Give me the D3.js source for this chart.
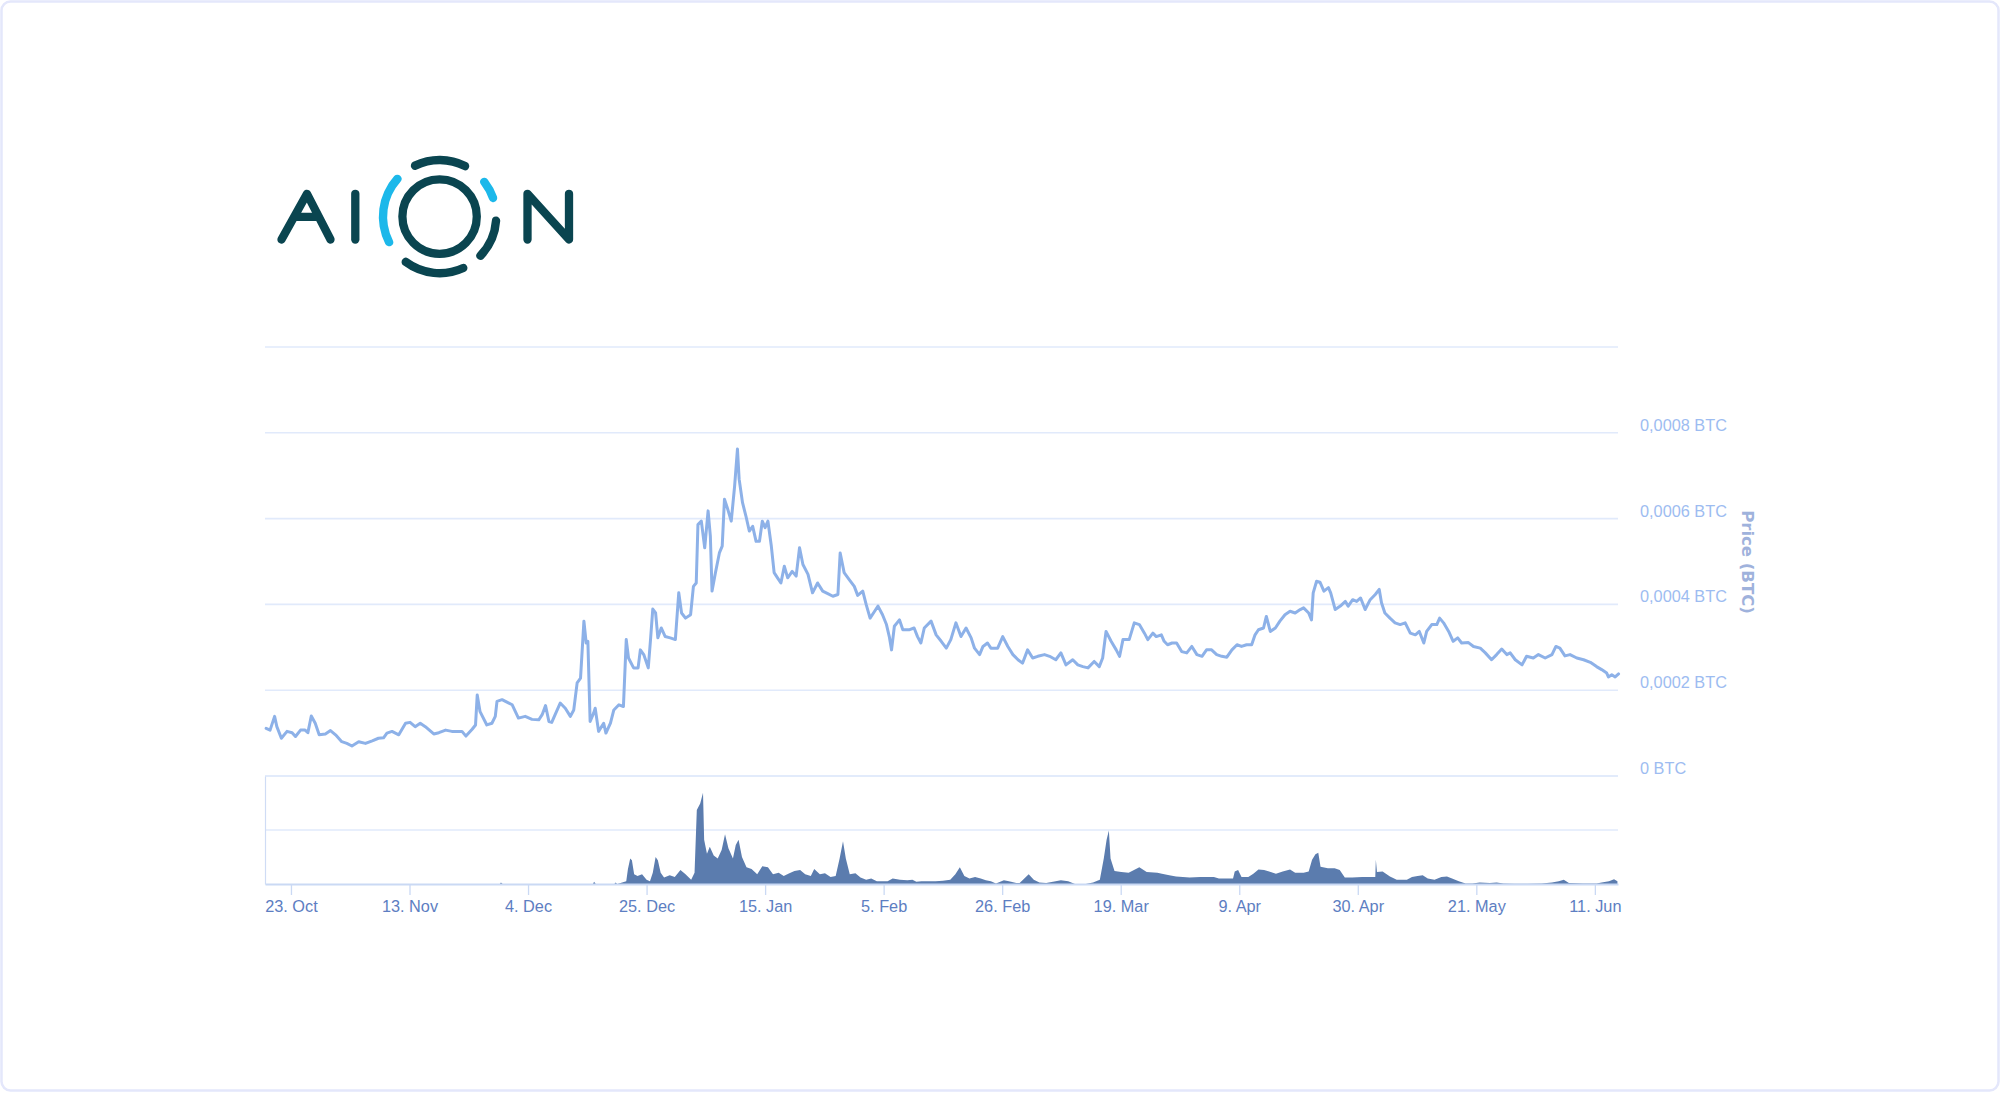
<!DOCTYPE html>
<html><head><meta charset="utf-8">
<script src="https://cdn.jsdelivr.net/npm/d3@7"></script>
<style>
html,body{margin:0;padding:0;background:#fff;}
svg{display:block;}
</style></head>
<body>
<svg id="c" width="2000" height="1093"></svg>
<script>
// ---------- DATA ----------
// days since 23 Oct 2017 (UTC) for each price reading
const priceDays = [-4.4,-3.7,-2.9,-2.5,-1.7,-0.7,0.2,0.8,1.7,2.5,3.0,3.6,4.3,5.0,6.1,7.0,7.9,9.0,9.9,10.8,12.0,13.2,14.4,15.5,16.4,17.0,17.9,19.1,20.3,21.1,22.0,22.9,23.8,25.3,26.2,27.4,28.5,29.7,30.3,31.0,32.1,32.7,33.0,33.5,34.7,35.6,36.2,36.5,37.4,38.6,39.2,40.3,41.5,42.7,43.9,44.5,45.1,45.7,46.2,46.8,47.7,48.6,49.5,50.1,50.7,51.3,51.9,52.3,52.6,53.0,53.6,53.9,54.5,55.4,55.8,56.6,57.2,58.1,58.9,59.4,59.8,60.7,61.5,61.9,62.5,63.3,63.7,64.1,64.6,65.0,65.6,66.3,67.2,68.1,68.7,69.2,69.9,70.8,71.3,71.8,72.1,72.7,73.3,73.9,74.3,74.6,75.2,75.9,76.4,76.8,77.4,78.0,78.6,79.1,79.4,80.0,80.6,81.2,81.8,82.4,83.0,83.5,84.0,84.5,85.1,85.6,86.2,86.8,87.4,88.0,88.8,89.5,90.1,90.7,91.6,92.4,93.3,94.2,95.1,96.0,96.9,97.3,98.0,98.9,99.8,100.4,101.3,101.9,102.6,103.4,104.0,104.8,105.5,106.0,106.4,106.9,107.8,108.4,109.6,110.4,111.0,111.6,112.2,113.4,114.3,115.2,116.1,116.9,117.8,118.7,119.6,120.5,121.1,122.0,122.6,123.4,124.0,125.2,126.1,127.0,127.9,128.8,129.6,130.5,131.4,132.3,133.5,134.4,135.5,136.4,137.3,138.5,139.4,140.3,141.2,142.3,143.2,143.8,144.4,145.3,146.2,146.8,147.4,148.5,149.4,150.3,151.2,151.8,152.7,153.3,154.2,154.7,155.3,156.1,156.9,157.8,158.7,159.6,160.5,161.4,162.2,163.1,164.0,164.9,165.8,166.7,167.6,168.4,169.3,170.2,170.8,171.4,172.3,172.8,173.5,174.4,175.2,176.1,177.0,177.9,178.8,179.4,180.3,180.8,181.1,181.7,182.3,183.0,183.8,184.2,185.0,185.9,186.8,187.3,188.1,188.8,189.5,190.3,191.2,192.1,192.8,193.2,193.8,194.7,195.6,196.5,197.4,198.3,199.2,199.9,200.7,201.2,202.1,203.0,203.5,204.2,205.1,205.9,206.7,207.4,208.6,209.5,210.7,211.6,212.7,213.6,214.5,215.4,216.0,216.9,218.1,218.9,220.1,221.0,222.2,223.4,224.1,224.8,225.7,226.6,227.8,229.0,230.2,231.3,232.2,233.1,233.4,234.0,234.6,235.2];
// price in satoshi (1 BTC = 1e8 sat)
const priceSat = [11100,10700,13900,11500,8800,10400,10100,9200,10700,10700,10100,14000,12300,9600,9800,10600,9600,8000,7600,7000,8000,7600,8200,8800,8900,10000,10400,9600,12300,12500,11500,12300,11500,9800,10100,10700,10400,10400,10400,9300,10900,11900,18900,15000,11900,12300,13900,17400,17800,17000,16600,13500,13900,13200,13100,14300,16400,12700,12500,14300,17000,15800,13900,15400,21700,22800,36100,31000,31400,12700,14600,15800,10400,12300,10000,12300,15400,16600,16200,31800,27500,25200,25200,29400,28300,25200,31800,38900,38000,32200,34500,32500,32200,31800,42700,38000,36800,37600,44200,45000,58600,59400,53200,61800,55900,43100,47400,52000,53600,64500,62100,59400,67600,76200,69200,63700,60600,57100,58200,54700,54700,59400,57900,59400,53600,47400,46200,45000,48900,46200,47700,46600,53200,49300,47000,42700,45000,43100,42500,41900,42300,52000,47400,45800,44200,42100,43100,40000,36800,38400,39600,37600,35300,32500,29400,34900,36400,34100,34100,34500,32500,31000,34500,36100,32900,31400,29800,31800,35700,32500,34500,32200,29800,28300,30200,31000,29800,29800,32500,30200,28300,27100,26300,29400,27500,27900,28300,27900,27100,28700,25900,27100,25900,25500,25200,26700,25500,27500,33700,31400,29400,27900,31800,31800,35700,35300,33300,31800,33300,32500,32900,31400,30600,31000,31000,29000,28700,30200,28300,27900,29400,29400,28300,27900,27700,29400,30600,30200,30600,30600,32900,34100,34500,37200,33700,34500,36100,37600,38400,38000,38800,39200,38000,36400,42700,45400,45200,43100,43900,42700,38800,39600,40700,39600,41100,40700,41500,38800,41100,42300,43500,40400,38000,36800,35700,35300,35700,33300,32900,33700,31000,33700,35300,35300,36800,35700,33700,31400,32200,31000,31100,30200,29800,28700,27100,28300,29600,28300,28700,27100,25900,27900,27500,28300,27500,28300,30200,29800,28000,28300,27500,27100,26500,25500,24800,24000,23100,23600,23100,23800];
// trading volume (relative units; no axis labels shown)
const volumeDays = [-4.6,37.0,37.2,37.5,53.5,53.7,54.0,57.3,57.5,57.8,59.4,59.7,60.1,60.4,60.8,61.4,62.2,63.0,63.6,64.1,64.6,65.0,65.5,66.1,67.1,68.0,69.0,69.9,70.9,71.5,71.9,72.5,73.0,73.2,73.7,74.2,74.9,75.6,76.3,76.9,77.5,78.3,78.8,79.3,79.9,80.7,81.6,82.6,83.5,84.5,85.4,86.4,87.3,88.3,89.2,90.2,91.1,92.1,92.7,93.7,94.6,95.6,96.5,97.2,97.8,98.3,99.0,100.0,100.9,101.9,102.8,103.8,104.7,105.7,106.6,107.9,109.2,110.1,110.8,111.7,113.0,114.2,115.5,116.8,117.7,118.5,119.3,120.2,121.2,122.2,123.1,124.0,124.9,126.3,127.2,128.5,129.1,130.1,130.7,131.6,132.6,133.8,135.0,136.4,137.7,138.9,140.8,142.1,143.3,144.0,144.5,144.9,145.2,145.9,147.1,148.4,149.7,150.3,151.6,153.5,154.3,155.6,156.8,158.0,159.2,161.1,163.5,164.4,166.9,167.2,167.8,168.4,169.6,170.5,171.4,172.4,173.3,174.5,175.7,177.0,177.9,179.4,180.3,180.9,181.5,182.0,182.4,183.7,184.9,185.8,186.7,188.0,189.8,191.6,192.1,192.2,192.4,193.4,194.7,195.9,197.7,198.6,199.6,200.5,201.4,202.6,203.8,204.8,205.7,206.9,208.1,209.3,210.6,212.4,213.6,214.8,216.7,219.1,221.6,223.4,224.6,225.5,226.4,228.9,231.3,232.2,233.5,234.4,235.0];
const volumeValues = [0,0,0.03,0,0,0.04,0,0,0.03,0,0.05,0.28,0.47,0.44,0.18,0.15,0.18,0.08,0.05,0.21,0.50,0.44,0.21,0.12,0.16,0.13,0.26,0.18,0.08,0.21,1.37,1.49,1.69,0.82,0.56,0.69,0.53,0.47,0.63,0.92,0.66,0.47,0.72,0.82,0.50,0.31,0.28,0.18,0.33,0.31,0.18,0.21,0.15,0.20,0.24,0.26,0.18,0.15,0.28,0.18,0.20,0.13,0.15,0.47,0.79,0.47,0.18,0.20,0.12,0.08,0.10,0.05,0.05,0.05,0.10,0.08,0.07,0.08,0.04,0.05,0.05,0.05,0.06,0.08,0.18,0.31,0.15,0.10,0.13,0.10,0.07,0.05,0.01,0.07,0.05,0.02,0.02,0.12,0.18,0.08,0.03,0.02,0.04,0.07,0.05,0,0,0.03,0.08,0.47,0.82,0.99,0.47,0.24,0.22,0.21,0.28,0.31,0.22,0.21,0.19,0.16,0.14,0.13,0.12,0.13,0.13,0.10,0.10,0.23,0.26,0.13,0.13,0.19,0.27,0.26,0.23,0.19,0.23,0.27,0.21,0.21,0.23,0.45,0.55,0.58,0.32,0.29,0.29,0.26,0.12,0.12,0.13,0.13,0.13,0.45,0.22,0.23,0.14,0.08,0.08,0.13,0.15,0.16,0.10,0.08,0.13,0.14,0.10,0.05,0.01,0.01,0.03,0.02,0.03,0.01,0.005,0.005,0.01,0.03,0.05,0.08,0.02,0.01,0.01,0.03,0.05,0.09,0.05];
const tickDates = ["2017-10-23","2017-11-13","2017-12-04","2017-12-25","2018-01-15","2018-02-05","2018-02-26","2018-03-19","2018-04-09","2018-04-30","2018-05-21","2018-06-11"];
const tickLabels = ["23. Oct","13. Nov","4. Dec","25. Dec","15. Jan","5. Feb","26. Feb","19. Mar","9. Apr","30. Apr","21. May","11. Jun"];
const priceGridValues = [0, 0.0002, 0.0004, 0.0006, 0.0008, 0.001];
const priceTickValues = [0, 0.0002, 0.0004, 0.0006, 0.0008];
const priceTickLabels = ["0 BTC","0,0002 BTC","0,0004 BTC","0,0006 BTC","0,0008 BTC"];
const volumeGridValues = [1, 2];
const axisTitle = "Price (BTC)";

// ---------- SETUP ----------
const svg = d3.select("#c");
const start = Date.UTC(2017, 9, 23);
const dayMs = 864e5;
const toDate = d => new Date(start + d * dayMs);
const parse = d3.utcParse("%Y-%m-%d");

const L = 265, R = 1618;
const x = d3.scaleUtc().domain([toDate(-4.6), toDate(235.1)]).range([L, R]);
const yP = d3.scaleLinear().domain([0, 0.001]).range([776, 347]);
const yV = d3.scaleLinear().domain([0, 2]).range([884, 776]);

// frame
svg.append("rect").attr("x", 1.5).attr("y", 1.5).attr("width", 1997).attr("height", 1089)
  .attr("rx", 9).attr("fill", "#fff").attr("stroke", "#e4e7fb").attr("stroke-width", 2.5);

// ---------- LOGO ----------
const teal = "#0a4550", cyan = "#1cb8ea";
const logo = svg.append("g");
logo.append("path").attr("d", "M281.5,239.5 L307,193.8 L330.5,239.5 M294.5,216.8 H318")
  .attr("fill", "none").attr("stroke", teal).attr("stroke-width", 8.3)
  .attr("stroke-linecap", "round").attr("stroke-linejoin", "round");
logo.append("path").attr("d", "M355.3,193.8 V239.5")
  .attr("fill", "none").attr("stroke", teal).attr("stroke-width", 8.3).attr("stroke-linecap", "round");
logo.append("path").attr("d", "M527.5,239.5 V193.8 L569,239.5 V193.8")
  .attr("fill", "none").attr("stroke", teal).attr("stroke-width", 8.3)
  .attr("stroke-linecap", "round").attr("stroke-linejoin", "round");
const ring = logo.append("g").attr("transform", "translate(439.6,216.6)");
ring.append("circle").attr("r", 37.2).attr("fill", "none").attr("stroke", teal).attr("stroke-width", 8.3);
const arcGen = d3.arc().innerRadius(52.4).outerRadius(60.8).cornerRadius(4.2);
const deg = Math.PI / 180;
const segs = [
  {a0: -30, a1: 31, c: teal},
  {a0: 48, a1: 75, c: cyan},
  {a0: 90, a1: 138, c: teal},
  {a0: 151, a1: 221, c: teal},
  {a0: 239, a1: 316, c: cyan}
];
ring.selectAll("path.seg").data(segs).join("path").attr("class", "seg")
  .attr("d", s => arcGen({startAngle: s.a0 * deg, endAngle: s.a1 * deg}))
  .attr("fill", s => s.c);

// ---------- GRID ----------
const gridColor = "#e1eafb";
svg.append("g").selectAll("line").data(priceGridValues).join("line")
  .attr("x1", L).attr("x2", R).attr("y1", d => yP(d)).attr("y2", d => yP(d))
  .attr("stroke", gridColor).attr("stroke-width", 1.6);
svg.append("g").selectAll("line").data(volumeGridValues).join("line")
  .attr("x1", L).attr("x2", R).attr("y1", d => yV(d)).attr("y2", d => yV(d))
  .attr("stroke", gridColor).attr("stroke-width", 1.6);

// ---------- VOLUME ----------
const vol = volumeDays.map((d, i) => ({t: toDate(d), v: volumeValues[i]}));
svg.append("path").datum(vol)
  .attr("d", d3.area().x(d => x(d.t)).y0(yV(0)).y1(d => yV(d.v)))
  .attr("fill", "#5b7cae");

// volume left axis line
svg.append("g").attr("transform", `translate(${L},0)`)
  .call(d3.axisLeft(yV).tickValues([]).tickSizeOuter(0))
  .call(g => g.select(".domain").attr("stroke", "#cfdcf5").attr("stroke-width", 1.2));

// ---------- PRICE LINE ----------
const price = priceDays.map((d, i) => ({t: toDate(d), p: priceSat[i] / 1e8}));
svg.append("path").datum(price)
  .attr("d", d3.line().x(d => x(d.t)).y(d => yP(d.p)))
  .attr("fill", "none").attr("stroke", "#8db1e8").attr("stroke-width", 3)
  .attr("stroke-linejoin", "round").attr("stroke-linecap", "round");

// ---------- X AXIS ----------
const xAxis = d3.axisBottom(x)
  .tickValues(tickDates.map(s => parse(s)))
  .tickFormat((d, i) => tickLabels[i])
  .tickSize(11).tickSizeOuter(0).tickPadding(5);
svg.append("g").attr("transform", `translate(0,${yV(0)})`).call(xAxis)
  .call(g => g.select(".domain").attr("stroke", "#cad9f4").attr("stroke-width", 2))
  .call(g => g.selectAll(".tick line").attr("stroke", "#cad9f4").attr("stroke-width", 1.3))
  .call(g => g.selectAll(".tick text").attr("fill", "#5d7ec2")
    .attr("font-family", "'Liberation Sans', Arial, sans-serif").attr("font-size", 16.3));

// ---------- Y AXIS (right) ----------
const yAxis = d3.axisRight(yP).tickValues(priceTickValues)
  .tickFormat((d, i) => priceTickLabels[i]).tickSize(0).tickPadding(22);
svg.append("g").attr("transform", `translate(${R},0)`).call(yAxis)
  .call(g => g.select(".domain").remove())
  .call(g => g.selectAll(".tick text").attr("fill", "#9dbcf1").attr("dy", "-0.15em")
    .attr("font-family", "'Liberation Sans', Arial, sans-serif").attr("font-size", 16.3));

svg.append("text").attr("transform", "translate(1742,562) rotate(90)")
  .attr("text-anchor", "middle").attr("font-family", "'DejaVu Sans', sans-serif")
  .attr("font-weight", "bold").attr("font-size", 16.5).attr("fill", "#9fb2dc")
  .text(axisTitle);
</script>
</body></html>
